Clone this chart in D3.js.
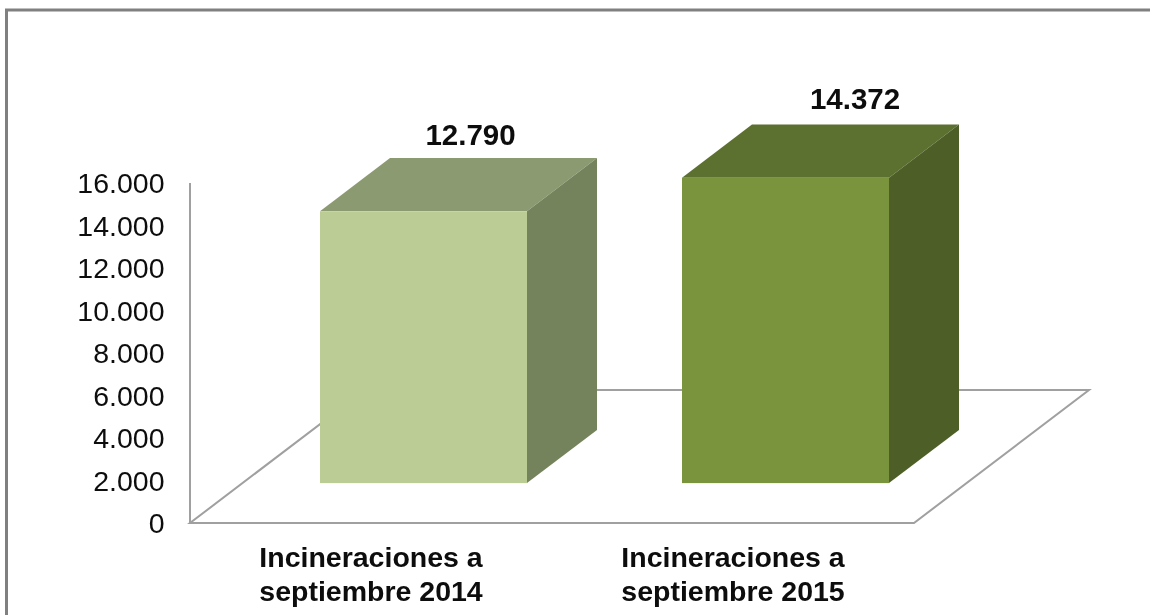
<!DOCTYPE html>
<html><head><meta charset="utf-8">
<script src="https://cdn.jsdelivr.net/npm/d3@7"></script>
<style>html,body{margin:0;padding:0;background:#fff;overflow:hidden}svg{display:block;filter:blur(0.45px)}
text{font-family:"Liberation Sans",Arial,sans-serif;fill:#0d0d0d}</style></head>
<body><svg id="c" width="1150" height="615"></svg>
<script>
const categories = ["Incineraciones a septiembre 2014", "Incineraciones a septiembre 2015"];
const categoryLines = [["Incineraciones a","septiembre 2014"],["Incineraciones a","septiembre 2015"]];
const values = [12790, 14372];
const valueLabels = ["12.790", "14.372"];
const tickValues = [0,2000,4000,6000,8000,10000,12000,14000,16000];
const tickLabels = ["0","2.000","4.000","6.000","8.000","10.000","12.000","14.000","16.000"];
const frontColors = ["#bbcc95","#7a943d"];
const topColors = ["#8b9a70","#5c7030"];
const sideColors = ["#75835d","#4d5f27"];

const svg = d3.select("#c");
const y = d3.scaleLinear().domain([0,16000]).range([523,183]);
const x = d3.scaleBand().domain(categories).range([190,914]);
const floorD = {x:175,y:-133};
const barW = 207, depthStart = 0.3, depthEnd = 0.7;
const ln = d3.line();

// outer frame
svg.append("path").attr("d",ln([[6.5,625],[6.5,10],[1165,10]]))
  .attr("fill","none").attr("stroke","#808080").attr("stroke-width",3);

// floor + wall axis
const x0=x.range()[0], x1=x.range()[1], y0=y(0);
svg.append("path").attr("d",ln([[x0,y0],[x1,y0],[x1+floorD.x,y0+floorD.y],[x0+floorD.x,y0+floorD.y]])+"Z")
  .attr("fill","none").attr("stroke","#a0a0a0").attr("stroke-width",2);
svg.append("line").attr("x1",x0).attr("x2",x0).attr("y1",y(16000)).attr("y2",y0)
  .attr("stroke","#a0a0a0").attr("stroke-width",2);

// axis labels
svg.selectAll(".tick").data(tickValues).join("text").attr("class","tick")
  .attr("x",164.5).attr("y",d=>y(d)).attr("dy","0.36em").attr("text-anchor","end")
  .attr("font-size",28.5)
  .text((d,i)=>tickLabels[i]);

// bars
const g = svg.selectAll(".bar").data(categories).join("g").attr("class","bar");
g.each(function(c,i){
  const s=d3.select(this);
  const bx = x(c)+x.bandwidth()/2 + floorD.x*depthStart - barW/2;
  const off = floorD.y*depthStart;
  const b = y(0)+off, t = y(values[i])+off;
  const r = bx+barW;
  const dx = floorD.x*(depthEnd-depthStart), dy = floorD.y*(depthEnd-depthStart);
  s.append("path").attr("d",ln([[bx,t],[r,t],[r+dx,t+dy],[bx+dx,t+dy]])+"Z").attr("fill",topColors[i]);
  s.append("path").attr("d",ln([[r,t],[r+dx,t+dy],[r+dx,b+dy],[r,b]])+"Z").attr("fill",sideColors[i]);
  s.append("rect").attr("x",bx).attr("y",t).attr("width",barW).attr("height",b-t).attr("fill",frontColors[i]);
  s.append("text").attr("x",bx+barW/2+ (i?69.5:47)).attr("y",t+dy-(i?26:24)).attr("dy","0.36em")
    .attr("text-anchor","middle").attr("font-size",29.5).attr("font-weight","bold").text(valueLabels[i]);
});

// category labels
categoryLines.forEach((lines,i)=>{
  const cx = x(categories[i])+x.bandwidth()/2;
  lines.forEach((l,j)=>{
    svg.append("text").attr("x",cx).attr("y",557+j*34).attr("dy","0.36em")
      .attr("text-anchor","middle").attr("font-size",28.5).attr("font-weight","bold").text(l);
  });
});
</script></body></html>
